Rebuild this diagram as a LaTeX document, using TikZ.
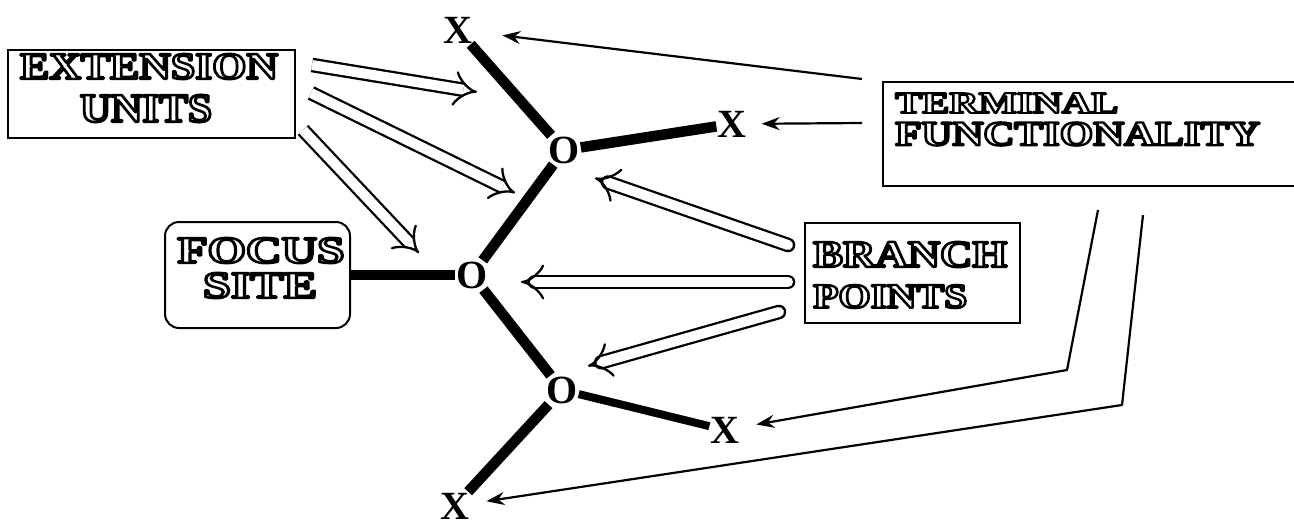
\documentclass[tikz,border=0pt]{standalone}
\usepackage{graphicx}
\usepackage{fontspec}
\setmainfont{Liberation Serif}
\usetikzlibrary{arrows.meta}
\newcommand{\hol}[1]{\textcolor{white}{\special{pdf:literal direct 0 G 2 Tr 2.2 w 1 j}\fontsize{34}{34}\selectfont\bfseries #1\special{pdf:literal direct 0 Tr}}}
\newcommand{\htxt}[3]{\resizebox{#1pt}{#2pt}{\hol{#3}}}
\tikzset{
  boxnode/.style={draw, line width=2pt, inner sep=0pt, fill=white},
  txtnode/.style={inner sep=0pt},
  atomnode/.style={font=\fontsize{40}{40}\selectfont\bfseries, inner sep=1pt},
  bond/.style={line width=10.5pt},
  thinarrow/.style={line width=2.2pt, -{Stealth[length=18pt,width=13pt,inset=6pt]}},
  blockarrow/.style={double, double distance=10pt, line width=2.3pt, -{Implies}},
  blockround/.style={blockarrow, line cap=round},
}
\begin{document}
\begin{tikzpicture}[x=1pt,y=-1pt]
\fill[white] (0,0) rectangle (1294,525);
\clip (0,0) rectangle (1294,525);

% boxes
\node[boxnode, minimum width=287pt, minimum height=88pt] (ext) at (151.5,94) {};
\node[boxnode, minimum width=417pt, minimum height=104pt] (term) at (1091.5,134) {};
\node[boxnode, rounded corners=14pt, minimum width=185pt, minimum height=106pt] (focus) at (257.5,275) {};
\node[boxnode, minimum width=215pt, minimum height=100pt] (branch) at (912.5,273) {};

% box texts
\node[txtnode] (ext1) at (149,66.5) {\htxt{258}{25}{EXTENSION}};
\node[txtnode] (ext2) at (146,108.5) {\htxt{132}{27}{UNITS}};
\node[txtnode, anchor=west] (term1) at (895,103) {\htxt{223}{20}{TERMINAL}};
\node[txtnode, anchor=west] (term2) at (895,134) {\htxt{365}{23}{FUNCTIONALITY}};
\node[txtnode] (focus1) at (261,250.5) {\htxt{167}{25}{FOCUS}};
\node[txtnode] (focus2) at (260,285.5) {\htxt{114}{25}{SITE}};
\node[txtnode, anchor=west] (branch1) at (813,254.5) {\htxt{194}{25}{BRANCH}};
\node[txtnode, anchor=west] (branch2) at (813,296.5) {\htxt{154}{23}{POINTS}};

% atoms
\node[atomnode] (O1) at (564,150) {O};
\node[atomnode] (O2) at (472,275) {O};
\node[atomnode] (O3) at (562,390) {O};
\node[atomnode] (X1) at (458,30) {X};
\node[atomnode] (X2) at (732,124) {X};
\node[atomnode] (X3) at (725,430) {X};
\node[atomnode] (X4) at (455,506) {X};

% bonds
\draw[bond] (O1) -- (X1);
\draw[bond] (O1) -- (X2);
\draw[bond] (O1) -- (O2);
\draw[bond] (O2) -- (O3);
\draw[bond, line width=8pt] (O3) -- (X3);
\draw[bond] (O3) -- (X4);
\draw[bond] (focus) -- (O2);

% thin arrows from terminal functionality
\coordinate (t1) at (862,79);
\coordinate (t2) at (862,123);
\coordinate (t3a) at (1098,210);
\coordinate (t3b) at (1067,370);
\coordinate (t4a) at (1143,215);
\coordinate (t4b) at (1122,405);
\draw[thinarrow, shorten >=29pt] (t1) -- (X1);
\draw[thinarrow, shorten >=14pt] (t2) -- (X2);
\draw[thinarrow, shorten >=16pt, line join=round] (t3a) -- (t3b) -- (X3);
\draw[thinarrow, shorten >=16pt, line join=round] (t4a) -- (t4b) -- (X4);

% block arrows from extension units
\coordinate (e1s) at (312,65);  \coordinate (e1t) at (477,92);
\coordinate (e2s) at (311,93);  \coordinate (e2t) at (515,193);
\coordinate (e3s) at (303,130); \coordinate (e3t) at (419,253);
\draw[blockarrow] (e1s) -- (e1t);
\draw[blockarrow] (e2s) -- (e2t);
\draw[blockarrow] (e3s) -- (e3t);

% block arrows from branch points
\coordinate (b1s) at (788,245); \coordinate (b1t) at (595,178);
\coordinate (b2s) at (788,282); \coordinate (b2t) at (521,282);
\coordinate (b3s) at (779,312); \coordinate (b3t) at (588,366);
\draw[blockround] (b1s) -- (b1t);
\draw[blockround] (b2s) -- (b2t);
\draw[blockround] (b3s) -- (b3t);
\end{tikzpicture}
\end{document}
